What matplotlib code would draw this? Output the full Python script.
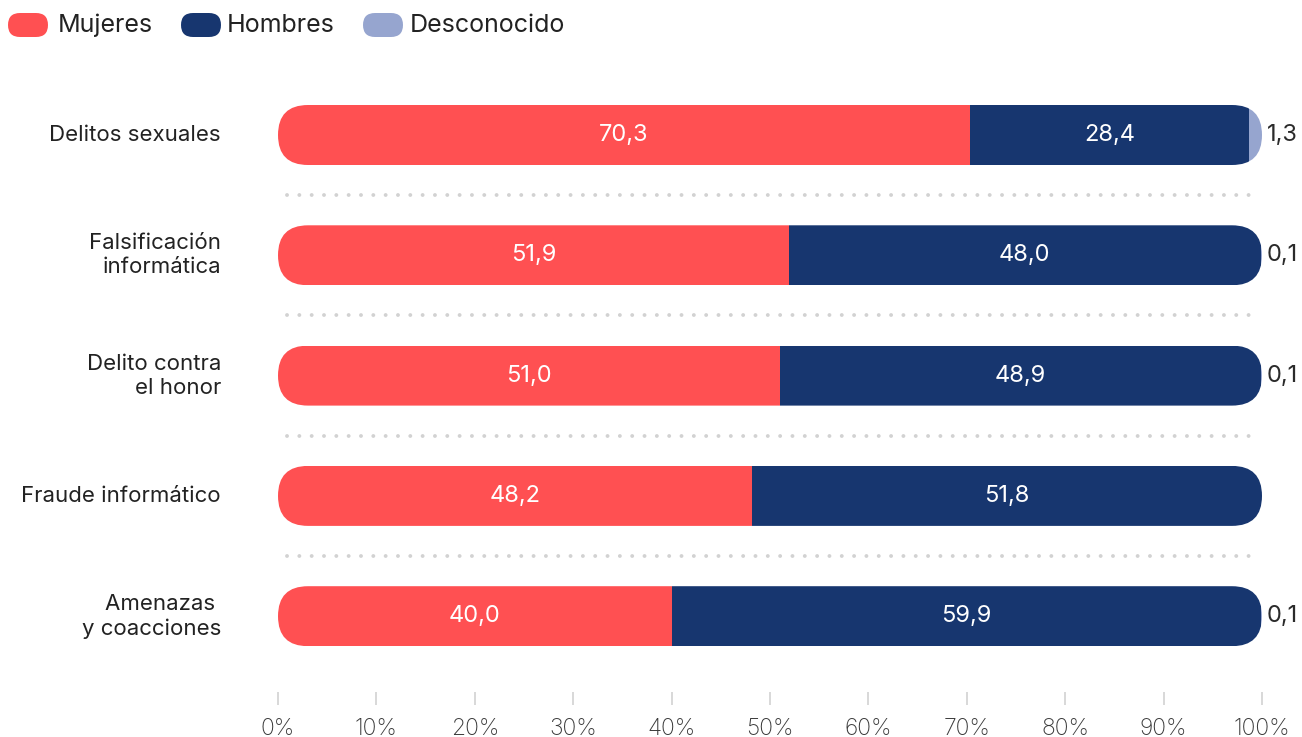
import matplotlib
matplotlib.use("Agg")
import matplotlib.pyplot as plt
from matplotlib.patches import FancyBboxPatch
from matplotlib.transforms import IdentityTransform
import numpy as np

categories = ["Delitos sexuales", "Falsificación\ninformática", "Delito contra\nel honor",
              "Fraude informático", "Amenazas \ny coacciones"]
mujeres = [70.3, 51.9, 51.0, 48.2, 40.0]
hombres = [28.4, 48.0, 48.9, 51.8, 59.9]
desconocido = [1.3, 0.1, 0.1, 0.0, 0.1]
series_names = ["Mujeres", "Hombres", "Desconocido"]
colors = ["#FF5052", "#17366F", "#96A5CF"]
xticks = [0, 10, 20, 30, 40, 50, 60, 70, 80, 90, 100]

plt.rcParams['font.family'] = ['Inter', 'DejaVu Sans']
W, H = 1302, 737
fig = plt.figure(figsize=(W / 100, H / 100), dpi=100)

# axes geometry in pixels
x0_px, x1_px = 278, 1262
top_px, bot_px = 75, 692
ax = fig.add_axes([x0_px / W, 1 - bot_px / H, (x1_px - x0_px) / W, (bot_px - top_px) / H])
step_px = 120.3
first_center_px = 135
ytop = -(first_center_px - top_px) / step_px
ybot = ytop + (bot_px - top_px) / step_px
ax.set_xlim(0, 100)
ax.set_ylim(ybot, ytop)

xu_per_px = 100 / (x1_px - x0_px)
yu_per_px = 1 / step_px
aspect = yu_per_px / xu_per_px

bar_h = 60 * yu_per_px
n = len(categories)
ys = np.arange(n)

segs = [mujeres, hombres, desconocido]
lefts = np.zeros(n)
containers = []
for vals, c in zip(segs, colors):
    bc = ax.barh(ys, vals, left=lefts, height=bar_h, color=c, linewidth=0)
    containers.append((bc, np.array(lefts), np.array(vals)))
    lefts = lefts + np.array(vals)

for i, y in enumerate(ys):
    total = mujeres[i] + hombres[i] + desconocido[i]
    hx = bar_h / aspect
    pill = FancyBboxPatch((0, y - bar_h / 2), total, bar_h,
                          boxstyle=f"round,pad=0,rounding_size={hx / 2}",
                          mutation_aspect=aspect, transform=ax.transData,
                          facecolor="none", edgecolor="none")
    ax.add_patch(pill)
    for bc, _, _ in containers:
        bc.patches[i].set_clip_path(pill)

# inner labels
for k in range(2):
    bc, lf, vals = containers[k]
    for i, y in enumerate(ys):
        ax.text(lf[i] + vals[i] / 2, y, f"{vals[i]:.1f}".replace(".", ","),
                ha="center", va="center", color="white", fontsize=17)
# outer labels for desconocido
for i, y in enumerate(ys):
    if desconocido[i] > 0:
        total = mujeres[i] + hombres[i] + desconocido[i]
        ax.text(total + 0.5, y, f"{desconocido[i]:.1f}".replace(".", ","),
                ha="left", va="center", color="#2b2b2b", fontsize=17, clip_on=False)

# category labels
for i, y in enumerate(ys):
    ax.text(-5.8, y, categories[i], ha="right", va="center", multialignment="right",
            color="#222222", fontsize=16, linespacing=1.25)

# dotted separators
for y in ys[:-1] + 0.5:
    ax.plot([0.9, 99.3], [y, y], color="#d2d2d2", linewidth=2.8,
            linestyle=(0, (0.01, 3.16)), dash_capstyle="round", solid_capstyle="round")

for s in ax.spines.values():
    s.set_visible(False)
ax.set_yticks([])
ax.set_xticks(xticks)
ax.set_xticklabels([f"{t}%" for t in xticks], color="#3a3a3a", fontsize=16.5, fontweight="light")
ax.tick_params(axis="x", length=9.4, width=1.3, color="#d6d6d6", pad=9)

# legend (manual pills)
leg_pill_x = [8, 181, 363]
leg_text_x = [58, 227, 410]
for lx, tx, name, c in zip(leg_pill_x, leg_text_x, series_names, colors):
    p = FancyBboxPatch((lx, H - 37), 40, 24,
                       boxstyle="round,pad=0,rounding_size=12",
                       transform=IdentityTransform(), facecolor=c, edgecolor="none")
    fig.add_artist(p)
    fig.text(tx / W, 1 - 25 / H, name, ha="left", va="center",
             fontsize=18, color="#222222")

fig.savefig("out.png", dpi=100)
